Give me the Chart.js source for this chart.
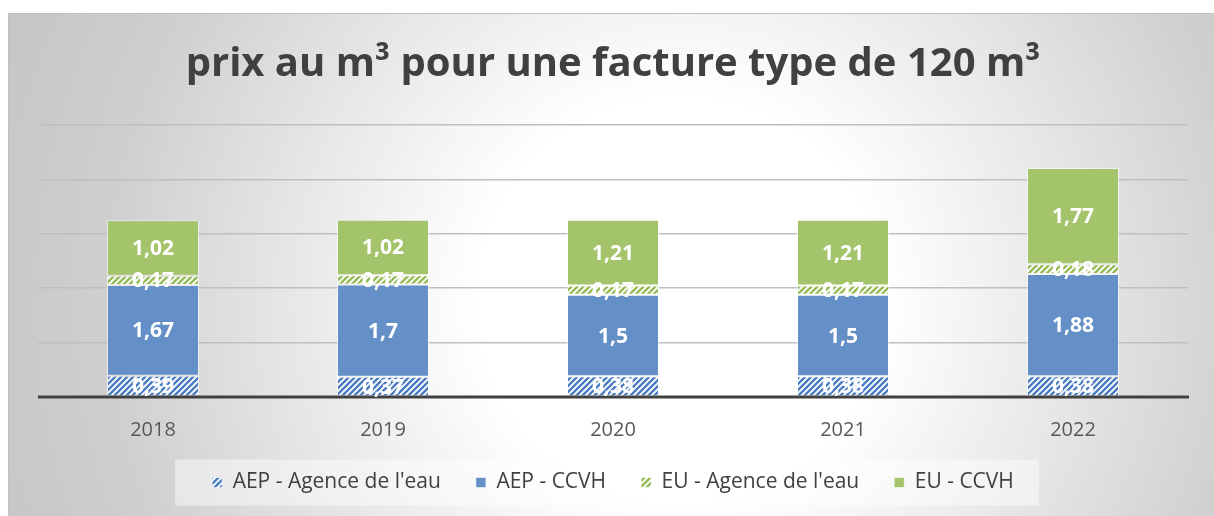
<!DOCTYPE html>
<html>
<head>
<meta charset="utf-8">
<script src="https://cdn.jsdelivr.net/npm/chart.js@4.4.1/dist/chart.umd.min.js"></script>
<style>
  html, body { margin: 0; padding: 0; background: #fff; }
  #wrap { width: 1214px; height: 516px; position: relative; }
</style>
</head>
<body>
<div id="wrap"><canvas id="prixChart"></canvas></div>
<script>
// --- data ---
const years = ['2018', '2019', '2020', '2021', '2022'];
const aepAgence = [0.39, 0.37, 0.38, 0.38, 0.38];
const aepCcvh = [1.67, 1.7, 1.5, 1.5, 1.88];
const euAgence = [0.17, 0.17, 0.17, 0.17, 0.18];
const euCcvh = [1.02, 1.02, 1.21, 1.21, 1.77];
const seriesNames = ["AEP - Agence de l'eau", 'AEP - CCVH', "EU - Agence de l'eau", 'EU - CCVH'];

const BLUE = '#6590c7';
const GREEN = '#a4c46b';

// diagonal stripes like the office hatch fill
function hatch(color) {
    const size = 6;
    const c = document.createElement('canvas');
    c.width = size; c.height = size;
    const g = c.getContext('2d');
    g.fillStyle = '#ffffff';
    g.fillRect(0, 0, size, size);
    g.strokeStyle = color;
    g.lineWidth = 2.4;
    g.beginPath();
    g.moveTo(-1, size + 1); g.lineTo(size + 1, -1);
    g.moveTo(-1, 1); g.lineTo(1, -1);
    g.moveTo(size - 1, size + 1); g.lineTo(size + 1, size - 1);
    g.stroke();
    return g.createPattern(c, 'repeat');
}

const fmt = v => String(v).replace('.', ',');

// background: white page, grey radial panel with thin border
const panelBg = {
    id: 'panelBg',
    beforeDraw(chart) {
        const ctx = chart.ctx;
        const w = chart.width, h = chart.height;
        ctx.save();
        ctx.fillStyle = '#ffffff';
        ctx.fillRect(0, 0, w, h);
        const grad = ctx.createRadialGradient(680, 300, 0, 680, 300, 720);
        grad.addColorStop(0, '#ffffff');
        grad.addColorStop(0.28, '#ffffff');
        grad.addColorStop(0.8, '#cfcfcf');
        grad.addColorStop(1, '#c6c6c6');
        ctx.fillStyle = grad;
        ctx.fillRect(8, 13, w - 8, h - 13);
        ctx.strokeStyle = '#c0c0c0';
        ctx.lineWidth = 1;
        ctx.strokeRect(8.5, 13.5, w, h);

        // light box behind the legend
        const boxes = chart.legend && chart.legend.legendHitBoxes;
        if (boxes && boxes.length) {
            const l = Math.min(...boxes.map(b => b.left));
            const r = Math.max(...boxes.map(b => b.left + b.width));
            const cy = boxes[0].top + boxes[0].height / 2;
            ctx.fillStyle = 'rgba(255,255,255,0.45)';
            ctx.fillRect(l - 37, cy - 23, (r - l) + 62, 46);
        }
        ctx.restore();
    }
};

// thick dark baseline
const baseLine = {
    id: 'baseLine',
    afterDatasetsDraw(chart) {
        const ctx = chart.ctx;
        const a = chart.chartArea;
        const y0 = chart.scales.y.getPixelForValue(0);
        ctx.save();
        ctx.strokeStyle = '#404040';
        ctx.lineWidth = 3;
        ctx.beginPath();
        ctx.moveTo(a.left, y0);
        ctx.lineTo(a.right + 1, y0);
        ctx.stroke();
        ctx.restore();
    }
};

// value labels in the middle of every segment
const valueLabels = {
    id: 'valueLabels',
    afterDraw(chart) {
        const ctx = chart.ctx;
        ctx.save();
        ctx.font = 'bold 21px "Open Sans"';
        ctx.fillStyle = '#ffffff';
        ctx.textAlign = 'center';
        ctx.textBaseline = 'middle';
        chart.data.datasets.forEach((ds, i) => {
            const meta = chart.getDatasetMeta(i);
            meta.data.forEach((bar, j) => {
                const p = bar.getProps(['x', 'y', 'base'], true);
                ctx.fillText(fmt(ds.data[j]), p.x, (p.y + p.base) / 2 + 1);
            });
        });
        ctx.restore();
    }
};

const ctx = document.getElementById('prixChart');
new Chart(ctx, {
    type: 'bar',
    data: {
        labels: years,
        datasets: [
            { label: seriesNames[0], data: aepAgence, backgroundColor: hatch('#4a7cc2') },
            { label: seriesNames[1], data: aepCcvh, backgroundColor: BLUE },
            { label: seriesNames[2], data: euAgence, backgroundColor: hatch('#95bb55') },
            { label: seriesNames[3], data: euCcvh, backgroundColor: GREEN }
        ].map(d => Object.assign(d, {
            borderColor: 'rgba(255,255,255,0.55)',
            borderWidth: 1,
            borderSkipped: false,
            categoryPercentage: 1,
            barPercentage: 0.4
        }))
    },
    options: {
        responsive: true,
        maintainAspectRatio: false,
        animation: false,
        layout: { padding: { left: 38, right: 26, top: 0, bottom: 13 } },
        plugins: {
            title: {
                display: true,
                text: 'prix au m³ pour une facture type de 120 m³',
                color: '#404040',
                font: { family: '"Open Sans"', size: 40, weight: 'bold' },
                padding: { top: 41, bottom: 36 }
            },
            legend: {
                position: 'bottom',
                labels: {
                    color: '#404040',
                    font: { family: '"Open Sans"', size: 21 },
                    boxWidth: 10,
                    boxHeight: 10,
                    padding: 35
                }
            },
            tooltip: { enabled: false }
        },
        scales: {
            x: {
                stacked: true,
                grid: { display: false, drawTicks: false },
                border: { display: false },
                ticks: { color: '#595959', font: { family: '"Open Sans"', size: 20 }, padding: 21 },
                afterFit: scale => { scale.height = 40; }
            },
            y: {
                stacked: true,
                min: 0,
                max: 5,
                ticks: { display: false, stepSize: 1 },
                grid: { color: '#bfbfbf', lineWidth: 1.5, drawTicks: false },
                border: { display: false }
            }
        }
    },
    plugins: [panelBg, baseLine, valueLabels]
});
</script>
</body>
</html>
